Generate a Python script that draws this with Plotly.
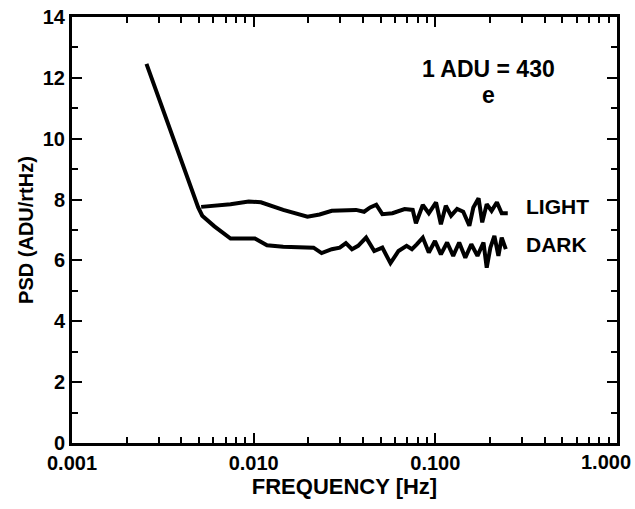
import plotly.graph_objects as go

# DARK curve (includes the steep low-frequency segment)
dark_freq = [0.00257, 0.00495, 0.00521, 0.00608, 0.00746, 0.01016, 0.01184, 0.01454,
             0.02136, 0.02366, 0.02692, 0.02979, 0.03218, 0.03476, 0.03757, 0.04159,
             0.04610, 0.05108, 0.05662, 0.06269, 0.06948, 0.07431, 0.07900, 0.08530,
             0.09206, 0.09954, 0.1073, 0.1161, 0.1254, 0.1353, 0.1462, 0.1578,
             0.1706, 0.1841, 0.1918, 0.2009, 0.2114, 0.2224, 0.2319, 0.2443]
dark_psd = [12.46, 7.74, 7.47, 7.12, 6.72, 6.72, 6.50, 6.45,
            6.42, 6.24, 6.37, 6.42, 6.57, 6.37, 6.48, 6.75,
            6.31, 6.42, 5.91, 6.31, 6.48, 6.37, 6.53, 6.75,
            6.26, 6.64, 6.20, 6.59, 6.15, 6.59, 6.09, 6.53,
            6.15, 6.59, 5.76, 6.42, 6.81, 6.15, 6.75, 6.37]

# LIGHT curve
light_freq = [0.00514, 0.00746, 0.00939, 0.01096, 0.01454, 0.01977, 0.02307, 0.02692,
              0.03659, 0.04055, 0.04377, 0.04730, 0.05108, 0.05806, 0.06776, 0.07507,
              0.07820, 0.08530, 0.09206, 0.1009, 0.1073, 0.1142, 0.1221, 0.1318,
              0.1424, 0.1539, 0.1619, 0.1730, 0.1812, 0.1918, 0.2040, 0.2182,
              0.2319, 0.2505]
light_psd = [7.76, 7.85, 7.94, 7.91, 7.66, 7.44, 7.51, 7.63,
             7.66, 7.60, 7.74, 7.83, 7.52, 7.55, 7.69, 7.66,
             7.22, 7.82, 7.55, 7.91, 7.19, 7.80, 7.47, 7.69,
             7.60, 7.14, 7.74, 8.04, 7.25, 7.85, 7.63, 7.91,
             7.55, 7.55]

x_tickvals = [0.001, 0.01, 0.1, 1.0]
x_ticktext = ["0.001", "0.010", "0.100", "1.000"]
x_minor = [m * d for d in (0.001, 0.01, 0.1) for m in range(2, 10)]
y_tickvals = [0, 2, 4, 6, 8, 10, 12, 14]
y_ticktext = ["0", "2", "4", "6", "8", "10", "12", "14"]
y_minor = [1, 3, 5, 7, 9, 11, 13]

FONT = "Liberation Sans"

fig = go.Figure()
fig.add_trace(go.Scatter(x=dark_freq, y=dark_psd, mode="lines",
                         line=dict(color="black", width=4), showlegend=False))
fig.add_trace(go.Scatter(x=light_freq, y=light_psd, mode="lines",
                         line=dict(color="black", width=4), showlegend=False))

# the last x label sits flush with the right edge (as in the reference), so it is
# drawn as an annotation right-aligned to the page edge instead of centred on its tick
shown_ticktext = ["<b>%s</b>" % t for t in x_ticktext[:-1]] + [""]

fig.update_layout(
    width=635, height=509,
    margin=dict(l=72, r=18, t=17, b=66),
    paper_bgcolor="white", plot_bgcolor="white",
    font=dict(family=FONT, color="black", size=20, weight="bold"),
    xaxis=dict(type="log", range=[-3, 0], tickvals=x_tickvals,
               ticktext=shown_ticktext, automargin=False,
               ticks="inside", ticklen=10, tickwidth=1.5, tickcolor="black",
               minor=dict(tickvals=x_minor, ticks="inside", ticklen=6, tickwidth=1.5,
                          tickcolor="black", showgrid=False),
               showline=True, linewidth=3, linecolor="black", mirror="ticks",
               showgrid=False, zeroline=False,
               tickfont=dict(family=FONT, size=20, weight="bold"),
               title=dict(text="FREQUENCY [Hz]", font=dict(size=22, weight="bold"), standoff=5)),
    yaxis=dict(range=[0, 14], tickvals=y_tickvals,
               ticktext=["<b>%s</b>" % t for t in y_ticktext], automargin=False,
               ticks="inside", ticklen=10, tickwidth=1.5, tickcolor="black",
               minor=dict(tickvals=y_minor, ticks="inside", ticklen=6, tickwidth=1.5,
                          tickcolor="black", showgrid=False),
               showline=True, linewidth=3, linecolor="black", mirror="ticks",
               showgrid=False, zeroline=False,
               tickfont=dict(family=FONT, size=20, weight="bold"),
               title=dict(text="PSD (ADU/rtHz)", font=dict(size=20, weight="bold"), standoff=4)),
)

fig.add_annotation(x=1.029, y=0, xref="paper", yref="paper", text="<b>%s</b>" % x_ticktext[-1],
                   showarrow=False, xanchor="right", yanchor="top", yshift=-6,
                   font=dict(size=20, weight="bold"))
fig.add_annotation(x=-0.71, y=12.29, xref="x", yref="y", text="1 ADU = 430",
                   showarrow=False, font=dict(size=23, weight="bold"))
fig.add_annotation(x=-0.71, y=11.45, xref="x", yref="y", text="e",
                   showarrow=False, font=dict(size=23, weight="bold"))
fig.add_annotation(x=-0.51, y=7.76, xref="x", yref="y", text="LIGHT",
                   showarrow=False, xanchor="left", font=dict(size=21, weight="bold"))
fig.add_annotation(x=-0.51, y=6.51, xref="x", yref="y", text="DARK",
                   showarrow=False, xanchor="left", font=dict(size=21, weight="bold"))

fig.write_html("out.html")
